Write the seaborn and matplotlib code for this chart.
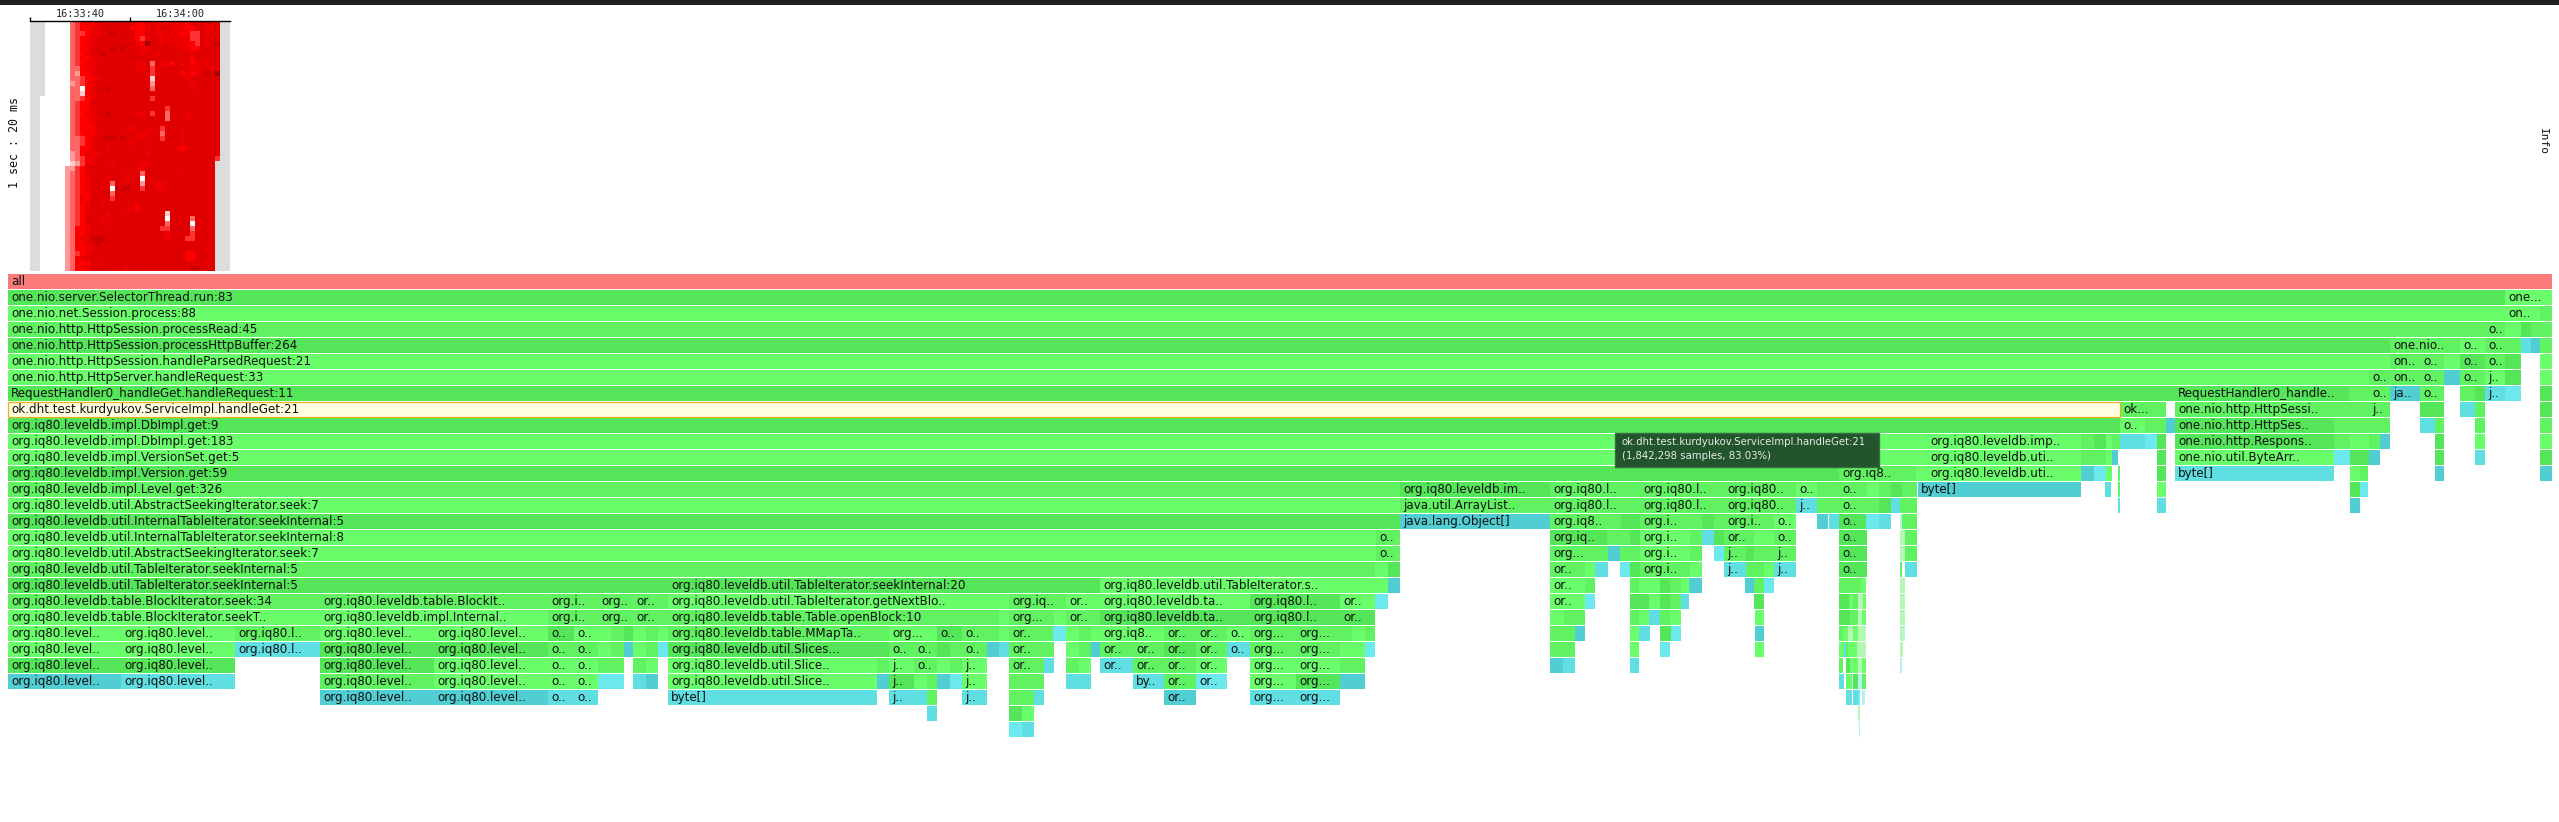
# -*- coding: utf-8 -*-
"""Flame graph with heatmap overview, redrawn from a profiler screenshot."""

import matplotlib
matplotlib.use("Agg")
import matplotlib.pyplot as plt
from matplotlib.colors import ListedColormap
from matplotlib.patches import Rectangle
import numpy as np
import pandas as pd
import seaborn as sns

WIDTH, HEIGHT = 2559, 822
ROW_TOP, ROW_PITCH, ROW_H = 274, 16, 15

# heat overview, one string per time slice: g = no data grey, . = empty, digit = level
heat_rows = [
    "ggg....." "3456567777" "7775567666" "7665777677" "gg",
    "ggg....." "3455667777" "7755567677" "6665577667" "gg",
    "ggg....." "3445667787" "7775577667" "6655447677" "gg",
    "ggg....." "3455677777" "7775467766" "7666447767" "gg",
    "ggg....." "3456677777" "7776597767" "6666547678" "gg",
    "ggg....." "3455777787" "8777667777" "7766557777" "gg",
    "ggg....." "3456778777" "7777677677" "7777677777" "gg",
    "ggg....." "3455677777" "7777777777" "7777577777" "gg",
    "ggg....." "3456667777" "7776673766" "5767567677" "gg",
    "ggg....." "3356677777" "7776674777" "7777667767" "gg",
    "ggg....." "3255677777" "7777774777" "7757567879" "gg",
    "ggg....." "3345567777" "7777771777" "7776777777" "gg",
    "ggg....." "2345677777" "7777772777" "7777677777" "gg",
    "ggg....." "3305677877" "7777773777" "7777677777" "gg",
    "ggg....." "3315677777" "7777777777" "7777777777" "gg",
    "gg......" "3345677777" "7777774777" "7777777777" "gg",
    "gg......" "3455777777" "7777777777" "7777777777" "gg",
    "gg......" "3455677777" "7777777774" "7777777777" "gg",
    "gg......" "3456677877" "7776674773" "7776777777" "gg",
    "gg......" "3455677777" "7777777773" "7776777777" "gg",
    "gg......" "3455677777" "7777777777" "7777777777" "gg",
    "gg......" "3455567777" "7667776747" "7777777777" "gg",
    "gg......" "3456577777" "7776667737" "7767777777" "gg",
    "gg......" "3345677887" "8776677747" "7767777777" "gg",
    "gg......" "3345677777" "7767767777" "7777777777" "gg",
    "gg......" "3355677677" "7777777777" "7656777777" "gg",
    "gg......" "2356667777" "7777767777" "7777777777" "gg",
    "gg......" "2346677777" "7777777777" "7777777774" "gg",
    "gg......" "1246677767" "7777667777" "777777777" "ggg",
    "gg....." "2245777777" "7767667777" "7776777777" "ggg",
    "gg....." "2345677777" "7777737777" "7777777777" "ggg",
    "gg....." "2345677767" "7767707777" "7777777777" "ggg",
    "gg....." "2345677773" "7777727766" "7777777777" "ggg",
    "gg....." "2345677770" "8887747766" "7777777777" "ggg",
    "gg....." "2345577773" "7777777777" "7777777777" "ggg",
    "gg....." "2346577774" "7777777777" "7777777777" "ggg",
    "gg....." "2345677677" "7777677777" "7777777777" "ggg",
    "gg....." "2345777777" "7767577777" "7777777777" "ggg",
    "gg....." "2345677767" "7777777777" "1777777777" "ggg",
    "gg....." "2345777677" "7777777777" "0777737777" "ggg",
    "gg....." "2345677767" "7777777777" "3777707777" "ggg",
    "gg....." "2355677777" "7777777774" "4777737777" "ggg",
    "gg....." "2355677777" "7777777777" "6777747777" "ggg",
    "gg....." "2356688877" "7777777777" "6777447777" "ggg",
    "gg....." "2355678777" "7777777777" "7777777777" "ggg",
    "gg....." "2355667777" "7777777777" "7777777777" "ggg",
    "gg....." "2345677777" "7777777777" "7777557777" "ggg",
    "gg....." "2356777777" "7777777777" "7777557777" "ggg",
    "gg....." "2355577677" "7777777777" "7777777777" "ggg",
    "gg....." "2355677777" "7767777777" "7777788777" "ggg",
]
heat_ticks = ["16:33:40", "16:34:00"]

# frames per stack depth: (start, end, label, shade)
depth_0 = [(8, 2552, "all", "r")]
depth_1 = [(8, 2505, "one.nio.server.SelectorThread.run:83", "d"), (2505, 2552, "one...", "b")]
depth_2 = [(8, 2505, "one.nio.net.Session.process:88", "b"), (2505, 2540, "on..", "b"), (2540, 2552, "", "m")]
depth_3 = [(8, 2485, "one.nio.http.HttpSession.processRead:45", "m"), (2485, 2505, "o..", "m"), (2505, 2521, "", "b"),
           (2521, 2531, "", "d"), (2531, 2540, "", "m"), (2540, 2552, "", "m")]
depth_4 = [(8, 2390, "one.nio.http.HttpSession.processHttpBuffer:264", "d"), (2390, 2460, "one.nio..", "m"),
           (2460, 2485, "o..", "b"), (2485, 2505, "o..", "m"), (2505, 2521, "", "m"), (2521, 2531, "", "c"),
           (2531, 2540, "", "x"), (2540, 2552, "", "m")]
depth_5 = [(8, 2390, "one.nio.http.HttpSession.handleParsedRequest:21", "b"), (2390, 2420, "on..", "m"),
           (2420, 2444, "o..", "m"), (2444, 2460, "", "b"), (2460, 2485, "o..", "d"), (2485, 2505, "o..", "m"),
           (2505, 2521, "", "d"), (2540, 2552, "", "b")]
depth_6 = [(8, 2369, "one.nio.http.HttpServer.handleRequest:33", "b"), (2369, 2390, "o..", "m"),
           (2390, 2420, "on..", "m"), (2420, 2444, "o..", "m"), (2444, 2460, "", "x"), (2460, 2485, "o..", "m"),
           (2485, 2505, "j..", "b"), (2505, 2521, "", "d"), (2540, 2552, "", "b")]
depth_7 = [(8, 2175, "RequestHandler0_handleGet.handleRequest:11", "d"),
           (2175, 2349, "RequestHandler0_handle..", "d"), (2349, 2369, "", "m"), (2369, 2390, "o..", "m"),
           (2390, 2420, "ja..", "x"), (2420, 2444, "o..", "m"), (2460, 2475, "", "m"), (2475, 2485, "", "d"),
           (2485, 2505, "j..", "c"), (2505, 2521, "", "l"), (2540, 2552, "", "d")]
depth_8 = [(8, 2120, "ok.dht.test.kurdyukov.ServiceImpl.handleGet:21", "h"), (2120, 2157, "ok...", "m"),
           (2157, 2166, "", "m"), (2175, 2349, "one.nio.http.HttpSessi..", "m"), (2349, 2369, "", "m"),
           (2369, 2390, "j..", "m"), (2420, 2436, "", "d"), (2436, 2444, "", "d"), (2460, 2475, "", "c"),
           (2475, 2485, "", "m"), (2540, 2552, "", "d")]
depth_9 = [(8, 2120, "org.iq80.leveldb.impl.DbImpl.get:9", "d"), (2120, 2145, "o..", "b"), (2145, 2157, "", "m"),
           (2157, 2166, "", "m"), (2166, 2175, "", "x"), (2175, 2334, "one.nio.http.HttpSes..", "d"),
           (2334, 2350, "", "m"), (2350, 2369, "", "m"), (2369, 2380, "", "m"), (2380, 2390, "", "m"),
           (2420, 2435, "", "c"), (2435, 2444, "", "m"), (2475, 2485, "", "m"), (2540, 2552, "", "m")]
depth_10 = [(8, 1927, "org.iq80.leveldb.impl.DbImpl.get:183", "b"), (1927, 2081, "org.iq80.leveldb.imp..", "b"),
            (2081, 2094, "", "m"), (2094, 2106, "", "d"), (2106, 2112, "", "b"), (2112, 2120, "", "m"),
            (2120, 2135, "", "c"), (2135, 2145, "", "c"), (2145, 2157, "", "l"), (2157, 2166, "", "d"),
            (2175, 2334, "one.nio.http.Respons..", "d"), (2334, 2350, "", "m"), (2350, 2369, "", "b"),
            (2369, 2380, "", "m"), (2380, 2390, "", "x"), (2435, 2444, "", "d"), (2475, 2485, "", "b"),
            (2540, 2552, "", "b")]
depth_11 = [(8, 1927, "org.iq80.leveldb.impl.VersionSet.get:5", "b"), (1927, 2081, "org.iq80.leveldb.uti..", "b"),
            (2081, 2094, "", "m"), (2094, 2106, "", "m"), (2106, 2112, "", "b"), (2112, 2118, "", "x"),
            (2157, 2166, "", "d"), (2175, 2334, "one.nio.util.ByteArr..", "b"), (2334, 2350, "", "l"),
            (2350, 2369, "", "d"), (2369, 2380, "", "x"), (2435, 2444, "", "d"), (2475, 2485, "", "c"),
            (2540, 2552, "", "d")]
depth_12 = [(8, 1839, "org.iq80.leveldb.impl.Version.get:59", "d"), (1839, 1905, "org.iq8..", "m"),
            (1905, 1916, "", "m"), (1916, 1927, "", "b"), (1927, 2081, "org.iq80.leveldb.uti..", "b"),
            (2081, 2094, "", "x"), (2094, 2106, "", "l"), (2106, 2112, "", "b"), (2118, 2120, "", "m"),
            (2157, 2166, "", "d"), (2175, 2334, "byte[]", "c"), (2350, 2360, "", "b"), (2360, 2368, "", "m"),
            (2435, 2444, "", "x"), (2540, 2552, "", "x")]
depth_13 = [(8, 1400, "org.iq80.leveldb.impl.Level.get:326", "m"), (1400, 1550, "org.iq80.leveldb.im..", "d"),
            (1550, 1640, "org.iq80.l..", "m"), (1640, 1724, "org.iq80.l..", "m"), (1724, 1796, "org.iq80..", "m"),
            (1796, 1817, "o..", "b"), (1817, 1830, "", "m"), (1830, 1839, "", "m"), (1839, 1867, "o..", "m"),
            (1867, 1879, "", "b"), (1879, 1891, "", "m"), (1891, 1902, "", "d"), (1902, 1917, "", "m"),
            (1918, 2081, "byte[]", "x"), (2105, 2111, "", "c"), (2118, 2120, "", "m"), (2157, 2166, "", "b"),
            (2350, 2360, "", "d"), (2360, 2368, "", "l")]
depth_14 = [(8, 1400, "org.iq80.leveldb.util.AbstractSeekingIterator.seek:7", "b"),
            (1400, 1550, "java.util.ArrayList..", "m"), (1550, 1640, "org.iq80.l..", "m"),
            (1640, 1724, "org.iq80.l..", "m"), (1724, 1796, "org.iq80..", "m"), (1796, 1817, "j..", "c"),
            (1817, 1830, "", "m"), (1830, 1839, "", "m"), (1839, 1867, "o..", "m"), (1867, 1879, "", "m"),
            (1879, 1891, "", "d"), (1891, 1900, "", "c"), (1900, 1905, "", "m"), (1905, 1917, "", "m"),
            (2118, 2120, "", "c"), (2157, 2166, "", "c"), (2350, 2360, "", "x")]
depth_15 = [(8, 1400, "org.iq80.leveldb.util.InternalTableIterator.seekInternal:5", "d"),
            (1400, 1550, "java.lang.Object[]", "x"), (1550, 1621, "org.iq8..", "m"), (1621, 1640, "", "d"),
            (1640, 1690, "org.i..", "m"), (1690, 1702, "", "m"), (1702, 1714, "", "d"), (1714, 1724, "", "m"),
            (1724, 1774, "org.i..", "m"), (1774, 1796, "o..", "b"), (1817, 1828, "", "x"), (1829, 1839, "", "c"),
            (1839, 1866, "o..", "d"), (1866, 1879, "", "l"), (1879, 1891, "", "c"), (1900, 1902, "", "q"),
            (1902, 1917, "", "m")]
depth_16 = [(8, 1376, "org.iq80.leveldb.util.InternalTableIterator.seekInternal:8", "b"), (1376, 1400, "o..", "m"),
            (1550, 1607, "org.iq..", "d"), (1607, 1621, "", "m"), (1621, 1630, "", "m"), (1630, 1640, "", "d"),
            (1640, 1690, "org.i..", "b"), (1690, 1702, "", "m"), (1702, 1714, "", "c"), (1714, 1724, "", "d"),
            (1724, 1754, "or..", "m"), (1754, 1774, "", "b"), (1774, 1796, "o..", "m"), (1839, 1867, "o..", "d"),
            (1900, 1905, "", "p"), (1905, 1917, "", "m")]
depth_17 = [(8, 1376, "org.iq80.leveldb.util.AbstractSeekingIterator.seek:7", "b"), (1376, 1400, "o..", "m"),
            (1550, 1595, "org...", "m"), (1595, 1608, "", "m"), (1608, 1620, "", "x"), (1620, 1630, "", "m"),
            (1630, 1640, "", "m"), (1640, 1690, "org.i..", "b"), (1690, 1702, "", "m"), (1714, 1724, "", "l"),
            (1724, 1746, "j..", "m"), (1746, 1754, "", "d"), (1754, 1774, "", "m"), (1774, 1796, "j..", "m"),
            (1839, 1867, "o..", "d"), (1900, 1905, "", "p"), (1905, 1917, "", "m")]
depth_18 = [(8, 1375, "org.iq80.leveldb.util.TableIterator.seekInternal:5", "m"), (1375, 1388, "", "b"),
            (1388, 1400, "", "d"), (1550, 1585, "or..", "m"), (1585, 1595, "", "b"), (1595, 1608, "", "c"),
            (1620, 1630, "", "l"), (1630, 1640, "", "d"), (1640, 1690, "org.i..", "m"), (1690, 1702, "", "b"),
            (1724, 1746, "j..", "c"), (1746, 1754, "", "m"), (1754, 1764, "", "m"), (1764, 1774, "", "b"),
            (1774, 1796, "j..", "c"), (1839, 1867, "o..", "d"), (1900, 1902, "", "m"), (1905, 1917, "", "c")]
depth_19 = [(8, 668, "org.iq80.leveldb.util.TableIterator.seekInternal:5", "d"),
            (668, 1100, "org.iq80.leveldb.util.TableIterator.seekInternal:20", "d"),
            (1100, 1375, "org.iq80.leveldb.util.TableIterator.s..", "b"), (1375, 1388, "", "b"), (1388, 1400, "", "x"),
            (1550, 1585, "or..", "b"), (1585, 1595, "", "m"), (1630, 1639, "", "m"), (1639, 1660, "", "b"),
            (1660, 1670, "", "d"), (1670, 1681, "", "m"), (1681, 1689, "", "b"), (1689, 1702, "", "x"),
            (1745, 1754, "", "x"), (1754, 1764, "", "m"), (1764, 1774, "", "l"), (1839, 1861, "", "m"),
            (1861, 1866, "", "b"), (1900, 1905, "", "p")]
depth_20 = [(8, 320, "org.iq80.leveldb.table.BlockIterator.seek:34", "m"),
            (320, 548, "org.iq80.leveldb.table.BlockIt..", "m"), (548, 598, "org.i..", "m"), (598, 633, "org..", "m"),
            (633, 668, "or..", "m"), (668, 1009, "org.iq80.leveldb.util.TableIterator.getNextBlo..", "b"),
            (1009, 1066, "org.iq..", "m"), (1066, 1100, "or..", "b"), (1100, 1250, "org.iq80.leveldb.ta..", "b"),
            (1250, 1340, "org.iq80.l..", "d"), (1340, 1375, "or..", "b"), (1375, 1388, "", "l"),
            (1550, 1585, "or..", "b"), (1585, 1595, "", "l"), (1630, 1639, "", "d"), (1639, 1649, "", "d"),
            (1649, 1660, "", "b"), (1660, 1670, "", "d"), (1670, 1681, "", "m"), (1681, 1689, "", "c"),
            (1754, 1764, "", "d"), (1839, 1849, "", "d"), (1849, 1853, "", "b"), (1853, 1858, "", "m"),
            (1858, 1863, "", "p"), (1863, 1866, "", "b"), (1900, 1905, "", "p")]
depth_21 = [(8, 320, "org.iq80.leveldb.table.BlockIterator.seekT..", "b"),
            (320, 548, "org.iq80.leveldb.impl.Internal..", "b"), (548, 598, "org.i..", "m"), (598, 633, "org..", "m"),
            (633, 668, "or..", "m"), (668, 999, "org.iq80.leveldb.table.Table.openBlock:10", "m"),
            (999, 1009, "", "b"), (1009, 1054, "org...", "m"), (1054, 1066, "", "b"), (1066, 1100, "or..", "m"),
            (1100, 1250, "org.iq80.leveldb.ta..", "d"), (1250, 1340, "org.iq80.l..", "d"), (1340, 1375, "or..", "d"),
            (1550, 1564, "", "b"), (1564, 1575, "", "m"), (1575, 1585, "", "m"), (1630, 1639, "", "m"),
            (1639, 1649, "", "b"), (1649, 1660, "", "c"), (1660, 1670, "", "m"), (1670, 1681, "", "b"),
            (1755, 1764, "", "b"), (1839, 1850, "", "d"), (1850, 1858, "", "m"), (1858, 1862, "", "p"),
            (1862, 1866, "", "b"), (1900, 1905, "", "p")]
depth_22 = [(8, 121, "org.iq80.level..", "b"), (121, 235, "org.iq80.level..", "b"), (235, 320, "org.iq80.l..", "m"),
            (320, 434, "org.iq80.level..", "b"), (434, 548, "org.iq80.level..", "b"), (548, 574, "o..", "d"),
            (574, 598, "o..", "b"), (598, 611, "", "b"), (611, 624, "", "m"), (624, 633, "", "d"),
            (633, 646, "", "b"), (646, 658, "", "m"), (658, 668, "", "b"),
            (668, 889, "org.iq80.leveldb.table.MMapTa..", "m"), (889, 937, "org...", "b"), (937, 962, "o..", "d"),
            (962, 987, "o..", "m"), (987, 999, "", "m"), (999, 1009, "", "b"), (1009, 1053, "or..", "m"),
            (1053, 1066, "", "l"), (1066, 1079, "", "b"), (1079, 1091, "", "m"), (1091, 1100, "", "b"),
            (1100, 1164, "org.iq8..", "b"), (1164, 1196, "or..", "m"), (1196, 1227, "or..", "m"), (1227, 1250, "o..", "b"),
            (1250, 1296, "org...", "m"), (1296, 1340, "org...", "m"), (1340, 1352, "", "m"), (1352, 1365, "", "b"),
            (1365, 1375, "", "m"), (1550, 1564, "", "m"), (1564, 1575, "", "m"), (1575, 1585, "", "x"),
            (1630, 1639, "", "b"), (1639, 1650, "", "c"), (1660, 1671, "", "d"), (1671, 1681, "", "l"),
            (1755, 1764, "", "x"), (1839, 1843, "", "m"), (1843, 1848, "", "b"), (1848, 1853, "", "p"),
            (1853, 1858, "", "b"), (1858, 1866, "", "p"), (1900, 1903, "", "p"), (1903, 1905, "", "q")]
depth_23 = [(8, 121, "org.iq80.level..", "b"), (121, 235, "org.iq80.level..", "b"), (235, 320, "org.iq80.l..", "c"),
            (320, 434, "org.iq80.level..", "d"), (434, 548, "org.iq80.level..", "d"), (548, 574, "o..", "m"),
            (574, 598, "o..", "m"), (598, 611, "", "b"), (611, 624, "", "m"), (624, 633, "", "x"),
            (633, 646, "", "b"), (646, 658, "", "m"), (658, 668, "", "l"),
            (668, 889, "org.iq80.leveldb.util.Slices...", "d"), (889, 914, "o..", "m"), (914, 937, "o..", "m"),
            (937, 950, "", "d"), (950, 962, "", "m"), (962, 987, "o..", "m"), (987, 999, "", "x"), (999, 1009, "", "c"),
            (1009, 1044, "or..", "m"), (1044, 1054, "", "m"), (1066, 1079, "", "b"), (1079, 1091, "", "m"),
            (1091, 1100, "", "x"), (1100, 1133, "or..", "m"), (1133, 1164, "or..", "m"), (1164, 1196, "or..", "d"),
            (1196, 1227, "or..", "m"), (1227, 1250, "o..", "c"), (1250, 1296, "org...", "m"), (1296, 1340, "org...", "m"),
            (1340, 1352, "", "b"), (1352, 1365, "", "b"), (1365, 1375, "", "l"), (1550, 1575, "", "m"),
            (1630, 1639, "", "b"), (1660, 1670, "", "l"), (1755, 1764, "", "b"),
            (1839, 1844, "", "b"), (1844, 1846, "", "c"), (1846, 1848, "", "m"), (1848, 1857, "", "b"),
            (1857, 1861, "", "p"), (1861, 1866, "", "p"), (1900, 1903, "", "p")]
depth_24 = [(8, 121, "org.iq80.level..", "d"), (121, 235, "org.iq80.level..", "d"), (320, 434, "org.iq80.level..", "d"),
            (434, 548, "org.iq80.level..", "b"), (548, 574, "o..", "b"), (574, 598, "o..", "b"), (598, 611, "", "m"),
            (611, 624, "", "m"), (633, 646, "", "m"), (646, 658, "", "b"),
            (668, 877, "org.iq80.leveldb.util.Slice..", "b"), (877, 889, "", "m"), (889, 914, "j..", "b"),
            (914, 937, "o..", "m"), (937, 950, "", "b"), (950, 962, "", "m"), (962, 987, "j..", "b"),
            (1009, 1044, "or..", "m"), (1044, 1054, "", "c"), (1066, 1079, "", "m"), (1079, 1091, "", "b"),
            (1100, 1133, "or..", "c"), (1133, 1164, "or..", "m"), (1164, 1196, "or..", "m"), (1196, 1227, "or..", "b"),
            (1250, 1296, "org...", "b"), (1296, 1340, "org...", "b"), (1340, 1352, "", "m"), (1352, 1365, "", "m"),
            (1550, 1563, "", "x"), (1563, 1575, "", "c"), (1630, 1639, "", "c"), (1839, 1843, "", "m"),
            (1846, 1850, "", "d"), (1850, 1858, "", "b"), (1858, 1862, "", "p"), (1862, 1866, "", "b"),
            (1900, 1902, "", "q")]
depth_25 = [(8, 121, "org.iq80.level..", "x"), (121, 235, "org.iq80.level..", "c"), (320, 434, "org.iq80.level..", "m"),
            (434, 548, "org.iq80.level..", "b"), (548, 574, "o..", "b"), (574, 598, "o..", "b"), (598, 611, "", "l"),
            (611, 624, "", "l"), (633, 646, "", "c"), (646, 658, "", "x"),
            (668, 877, "org.iq80.leveldb.util.Slice..", "b"), (877, 889, "", "x"), (889, 914, "j..", "d"),
            (914, 927, "", "b"), (927, 937, "", "m"), (937, 950, "", "x"), (950, 962, "", "l"), (962, 987, "j..", "b"),
            (1009, 1022, "", "m"), (1022, 1034, "", "m"), (1034, 1044, "", "m"), (1066, 1079, "", "c"),
            (1079, 1091, "", "c"), (1133, 1164, "by..", "c"), (1164, 1196, "or..", "m"), (1196, 1227, "or..", "l"),
            (1250, 1296, "org...", "b"), (1296, 1340, "org...", "d"), (1340, 1352, "", "x"), (1352, 1365, "", "x"),
            (1839, 1844, "", "c"), (1846, 1852, "", "b"), (1852, 1853, "", "q"), (1853, 1858, "", "d"),
            (1858, 1862, "", "q"), (1862, 1866, "", "m")]
depth_26 = [(320, 434, "org.iq80.level..", "x"), (434, 548, "org.iq80.level..", "x"), (548, 574, "o..", "c"),
            (574, 598, "o..", "c"), (668, 877, "byte[]", "c"), (889, 914, "j..", "c"), (914, 927, "", "c"),
            (927, 937, "", "m"), (962, 987, "j..", "c"), (1009, 1022, "", "m"), (1022, 1034, "", "m"),
            (1034, 1044, "", "c"), (1164, 1196, "or..", "x"), (1250, 1296, "org...", "c"), (1296, 1340, "org...", "c"),
            (1846, 1852, "", "c"), (1853, 1858, "", "c"), (1858, 1860, "", "l"), (1862, 1865, "", "q")]
depth_27 = [(927, 937, "", "c"), (1009, 1022, "", "d"), (1022, 1034, "", "b"), (1858, 1860, "", "p")]
depth_28 = [(1009, 1022, "", "l"), (1022, 1034, "", "c"), (1859, 1860, "", "q")]

all_depths = [depth_0, depth_1, depth_2, depth_3, depth_4, depth_5, depth_6, depth_7, depth_8, depth_9,
              depth_10, depth_11, depth_12, depth_13, depth_14, depth_15, depth_16, depth_17, depth_18, depth_19,
              depth_20, depth_21, depth_22, depth_23, depth_24, depth_25, depth_26, depth_27, depth_28]

SHADES = {
    "r": "#fa7a7a",
    "b": "#6bfe6b",
    "m": "#60f260",
    "d": "#55e558",
    "c": "#60dfe2",
    "x": "#51ced2",
    "l": "#6ce9ec",
    "p": "#b4f8b4",
    "q": "#b8f0f2",
    "h": "#ffffe0",
}
HEAT_COLORS = ["#dcdcdc", "#ffffff", "#ffcccc", "#ff9999", "#ff6666", "#ff3333",
               "#ff0000", "#ee0000", "#e00000", "#cc0000", "#a00000"]


def row_of(y_px):
    return (y_px - ROW_TOP - ROW_H / 2) / ROW_PITCH


def build_frames():
    records = []
    for depth, frames in enumerate(all_depths):
        for start, end, label, shade in frames:
            records.append({"depth": depth, "start": start, "end": end, "label": label, "shade": shade})
    return pd.DataFrame(records)


def heat_matrix():
    matrix = np.full((len(heat_rows), len(heat_rows[0])), np.nan)
    for i, row in enumerate(heat_rows):
        for j, ch in enumerate(row):
            if ch == "g":
                matrix[i, j] = -1
            elif ch != ".":
                matrix[i, j] = int(ch)
    return matrix


def draw_flames(ax, df):
    ax.barh(df["depth"], df["end"] - df["start"], left=df["start"], height=ROW_H / ROW_PITCH,
            color=[SHADES[s] for s in df["shade"]], linewidth=0)
    for _, row in df[df["label"] != ""].iterrows():
        ax.text(row["start"] + 3, row["depth"] + 0.03, row["label"], ha="left", va="center",
                fontsize=8.6, color="#101010", zorder=3)
    # hovered frame gets an orange outline
    hot = df[df["shade"] == "h"].iloc[0]
    ax.add_patch(Rectangle((hot["start"], hot["depth"] - ROW_H / ROW_PITCH / 2), hot["end"] - hot["start"],
                           ROW_H / ROW_PITCH, fill=False, edgecolor="#eab020", linewidth=0.9, zorder=2))


def draw_tooltip(ax):
    ax.add_patch(Rectangle((1615, row_of(433)), 264, row_of(467) - row_of(433), facecolor="#22552c",
                           edgecolor="#3a6a44", linewidth=1.0, zorder=4))
    ax.text(1622, row_of(442), "ok.dht.test.kurdyukov.ServiceImpl.handleGet:21", color="#e4ece4",
            fontsize=7.3, va="center", zorder=5)
    ax.text(1622, row_of(456), "(1,842,298 samples, 83.03%)", color="#e4ece4",
            fontsize=7.3, va="center", zorder=5)


def draw_heat(fig):
    hm_ax = fig.add_axes([30 / WIDTH, 1 - 271 / HEIGHT, 200 / WIDTH, 250 / HEIGHT])
    sns.heatmap(heat_matrix(), cmap=ListedColormap(HEAT_COLORS), vmin=-1.5, vmax=9.5, cbar=False,
                xticklabels=False, yticklabels=False, ax=hm_ax)
    hm_ax.patch.set_alpha(0)
    hm_ax.spines["top"].set_visible(True)
    hm_ax.spines["top"].set_linewidth(1.0)
    hm_ax.spines["top"].set_color("black")
    hm_ax.xaxis.tick_top()
    hm_ax.set_xticks([0, 20])
    hm_ax.set_xticklabels(["", ""])
    hm_ax.set_xticks([10, 30], minor=True)
    hm_ax.set_xticklabels(heat_ticks, minor=True, fontsize=7.4, family="DejaVu Sans Mono")
    hm_ax.tick_params(axis="x", which="major", length=3, width=1.0, color="black", top=True, bottom=False)
    hm_ax.tick_params(axis="x", which="minor", length=0, pad=1.5, top=True, bottom=False)


def main():
    sns.set_theme(style="white")
    plt.rcParams.update({"font.family": "DejaVu Sans", "axes.unicode_minus": False})
    fig = plt.figure(figsize=(WIDTH / 100, HEIGHT / 100), dpi=100, facecolor="white")

    ax = fig.add_axes([0, 0, 1, 1])
    ax.set_xlim(0, WIDTH)
    ax.set_ylim(row_of(HEIGHT), row_of(0))
    ax.axis("off")

    draw_flames(ax, build_frames())
    draw_tooltip(ax)
    # window title strip along the very top
    ax.add_patch(Rectangle((0, row_of(5)), WIDTH, row_of(0) - row_of(5), facecolor="#1f1f22", linewidth=0, zorder=6))

    draw_heat(fig)
    fig.text(15 / WIDTH, 1 - 142 / HEIGHT, "1 sec : 20 ms", rotation=90, ha="center", va="center",
             fontsize=8.4, family="DejaVu Sans Mono", color="#111111")
    fig.text(2543 / WIDTH, 1 - 142 / HEIGHT, "Info", rotation=270, ha="center", va="center",
             fontsize=8.0, family="DejaVu Sans Mono", color="#111111")

    fig.savefig("out.png", dpi=100)
    plt.close(fig)


if __name__ == "__main__":
    main()
